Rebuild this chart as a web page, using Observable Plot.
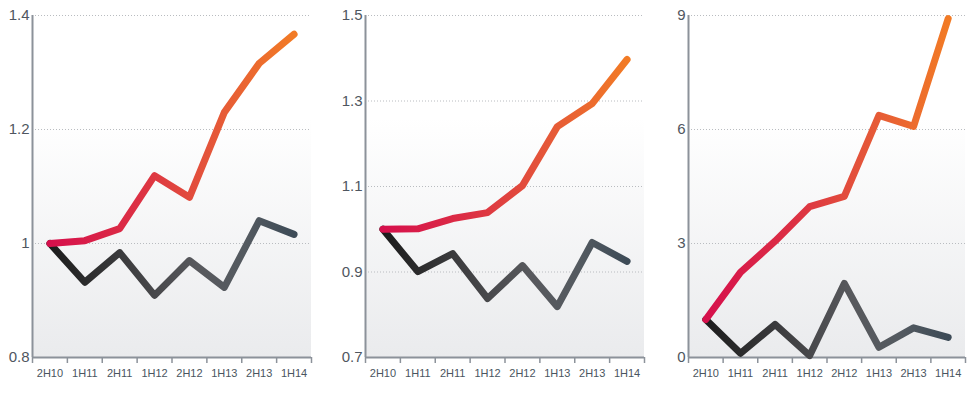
<!DOCTYPE html>
<html>
<head>
<meta charset="utf-8">
<script src="https://cdn.jsdelivr.net/npm/d3@7"></script>
<script src="https://cdn.jsdelivr.net/npm/@observablehq/plot@0.6"></script>
<style>
  html, body { margin: 0; padding: 0; background: #fff; }
  #row { display: flex; flex-direction: row; width: 976px; height: 396px; }
  #row svg { display: block; flex: none; }
</style>
</head>
<body>
<svg width="0" height="0" style="position:absolute">
  <defs>
    <linearGradient id="gTop" x1="0" y1="0" x2="1" y2="0">
      <stop offset="0%" stop-color="#d6104c"/>
      <stop offset="35%" stop-color="#dc2f44"/>
      <stop offset="65%" stop-color="#e4553a"/>
      <stop offset="100%" stop-color="#f27b25"/>
    </linearGradient>
    <linearGradient id="gBot" x1="0" y1="0" x2="1" y2="0">
      <stop offset="0%" stop-color="#1c1c1c"/>
      <stop offset="30%" stop-color="#3c3c3e"/>
      <stop offset="60%" stop-color="#58595d"/>
      <stop offset="80%" stop-color="#545a60"/>
      <stop offset="100%" stop-color="#3d4b57"/>
    </linearGradient>
    <linearGradient id="gBg" x1="0" y1="0" x2="0" y2="1">
      <stop offset="0%" stop-color="#ffffff"/>
      <stop offset="30%" stop-color="#ffffff"/>
      <stop offset="100%" stop-color="#eaebed"/>
    </linearGradient>
  </defs>
</svg>
<div id="row"></div>
<script>
const periods = ["2H10", "1H11", "2H11", "1H12", "2H12", "1H13", "2H13", "1H14"];

const p1Top = [1.0, 1.005, 1.026, 1.119, 1.081, 1.23, 1.316, 1.367];
const p1Bot = [1.0, 0.932, 0.984, 0.909, 0.970, 0.923, 1.040, 1.016];
const p1Ticks = [0.8, 1, 1.2, 1.4];

const p2Top = [1.0, 1.001, 1.025, 1.039, 1.102, 1.240, 1.294, 1.397];
const p2Bot = [1.0, 0.901, 0.943, 0.838, 0.915, 0.819, 0.969, 0.925];
const p2Ticks = [0.7, 0.9, 1.1, 1.3, 1.5];

const p3Top = [1.0, 2.24, 3.06, 3.97, 4.24, 6.37, 6.08, 8.92];
const p3Bot = [1.0, 0.11, 0.87, 0.05, 1.95, 0.27, 0.78, 0.53];
const p3Ticks = [0, 3, 6, 9];

const panels = [
  {top: p1Top, bot: p1Bot, ticks: p1Ticks, width: 320, ml: 32, mr: 9, fmt: d => String(d)},
  {top: p2Top, bot: p2Bot, ticks: p2Ticks, width: 330, ml: 45, mr: 6, fmt: d => String(d)},
  {top: p3Top, bot: p3Bot, ticks: p3Ticks, width: 326, ml: 38, mr: 11, fmt: d => String(d)}
];

const axisColor = "#8c929a";
const row = document.getElementById("row");

for (const p of panels) {
  const ymin = p.ticks[0], ymax = p.ticks[p.ticks.length - 1];
  const topData = periods.map((k, i) => ({i, v: p.top[i]}));
  const botData = periods.map((k, i) => ({i, v: p.bot[i]}));
  const edges = d3.range(periods.length + 1).map(i => i - 0.5);
  const chart = Plot.plot({
    width: p.width,
    height: 396,
    marginLeft: p.ml,
    marginRight: p.mr,
    marginTop: 15,
    marginBottom: 39,
    style: {fontFamily: "'Liberation Sans', Arial, sans-serif", background: "transparent", overflow: "visible"},
    x: {type: "linear", domain: [-0.5, periods.length - 0.5]},
    y: {type: "linear", domain: [ymin, ymax]},
    marks: [
      Plot.rect([0], {x1: -0.5, x2: periods.length - 0.5, y1: ymin, y2: ymax, fill: "url(#gBg)"}),
      Plot.ruleY(p.ticks.slice(1), {x1: -0.5, x2: periods.length - 0.5, stroke: "#b9bcc0", strokeWidth: 1, strokeDasharray: "1,2"}),
      Plot.axisY({ticks: p.ticks, tickSize: 0, tickPadding: 3, tickFormat: p.fmt, fontSize: 15, color: "#4f5660", label: null}),
      Plot.axisX({ticks: edges, tickSize: 6, tickFormat: () => "", stroke: axisColor, strokeWidth: 1.5, label: null}),
      Plot.axisX({ticks: d3.range(periods.length), tickSize: 0, tickPadding: 12, tickFormat: i => periods[i], fontSize: 11, color: "#4a5560", label: null}),
      Plot.ruleY([ymin], {x1: -0.5, x2: periods.length - 0.5, stroke: axisColor, strokeWidth: 2}),
      Plot.ruleX([-0.5], {y1: ymin, y2: ymax, stroke: axisColor, strokeWidth: 2}),
      Plot.line(botData, {x: "i", y: "v", stroke: "url(#gBot)", strokeWidth: 7, strokeLinecap: "round", strokeLinejoin: "round"}),
      Plot.line(topData, {x: "i", y: "v", stroke: "url(#gTop)", strokeWidth: 7, strokeLinecap: "round", strokeLinejoin: "round"})
    ]
  });
  row.appendChild(chart);
}
</script>
</body>
</html>
